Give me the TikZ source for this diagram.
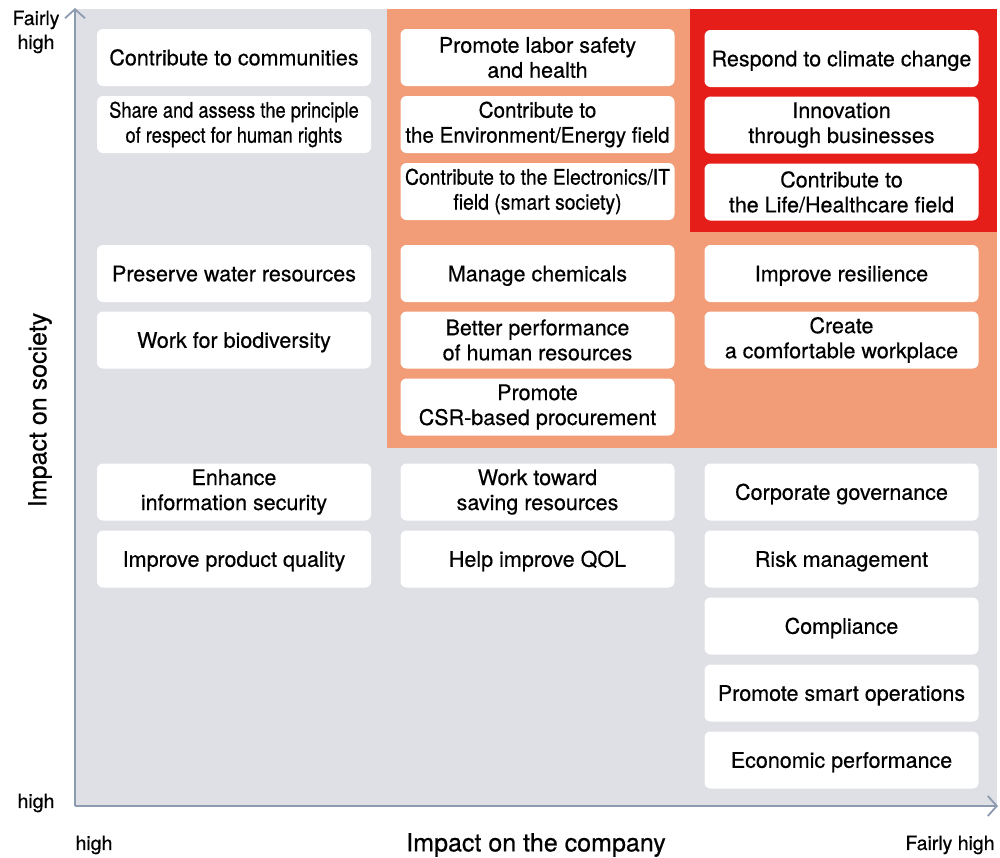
\documentclass[tikz,border=0pt]{standalone}
\usepackage{fontspec}
\setmainfont{TeX Gyre Heros}[FakeBold=0.5]
\usetikzlibrary{arrows.meta}
\definecolor{bggray}{HTML}{DFE0E5}
\definecolor{salmon}{HTML}{F29C78}
\definecolor{redzone}{HTML}{E61E19}
\definecolor{axiscol}{HTML}{8C9BB0}
\tikzset{
  item/.style={fill=white, rounded corners=6pt, minimum width=274pt, minimum height=57pt,
    inner sep=0pt, align=center, font=\fontsize{21.5}{25}\selectfont},
  one/.style={text height=15.5pt, text depth=0pt},
  axislabel/.style={font=\fontsize{19.5}{24}\selectfont, inner sep=0pt},
  axistitle/.style={font=\fontsize{25}{28}\selectfont, inner sep=0pt},
  axisline/.style={draw=axiscol, line width=2.2pt, -{Straight Barb[length=9pt,width=20pt,line width=1.8pt]}}
}
\newcommand{\cnda}[1]{\scalebox{0.85}[1]{#1}}
\newcommand{\cndb}[1]{\scalebox{0.9}[1]{#1}}
\newcommand{\cndc}[1]{\scalebox{0.96}[1]{#1}}
\begin{document}
\begin{tikzpicture}[x=1pt,y=-1pt]
\useasboundingbox (0,0) rectangle (1000,857);
% zones
\fill[bggray] (76,9) rectangle (997,806);
\fill[salmon] (387,9) rectangle (997,448);
\fill[redzone] (690,9) rectangle (997,232);
% axes
\coordinate (o) at (75,806);
\coordinate (ytop) at (75,8);
\coordinate (xend) at (998,806);
\draw[axisline] (o) -- (ytop);
\draw[axisline] (o) -- (xend);
% axis labels
\node[axislabel, align=center] (fh1) at (36,32) {Fairly\\high};
\node[axislabel] (h1) at (36,803) {high};
\node[axislabel] (h2) at (94,845) {high};
\node[axislabel] (fh2) at (950,845) {Fairly high};
\node[axistitle] (xt) at (536,845) {Impact on the company};
\node[axistitle, rotate=90] (yt) at (40,410) {Impact on society};
% column 1
\node[item, one] (a1) at (234,57.5) {Contribute to communities};
\node[item] (a2) at (234,124.5) {\cnda{Share and assess the principle}\\\cnda{of respect for human rights}};
\node[item, one] (a3) at (234,273.5) {Preserve water resources};
\node[item, one] (a4) at (234,340) {Work for biodiversity};
\node[item] (a5) at (234,492) {Enhance\\information security};
\node[item, one] (a6) at (234,559) {Improve product quality};
% column 2
\node[item] (b1) at (537.5,57.5) {Promote labor safety\\and health};
\node[item] (b2) at (537.5,124.5) {\cndc{Contribute to}\\\cndc{the Environment/Energy field}};
\node[item] (b3) at (537.5,191.5) {\cndb{Contribute to the Electronics/IT}\\\cndb{field (smart society)}};
\node[item, one] (b4) at (537.5,273.5) {Manage chemicals};
\node[item] (b5) at (537.5,340) {Better performance\\of human resources};
\node[item] (b6) at (537.5,407) {Promote\\CSR-based procurement};
\node[item] (b7) at (537.5,492) {Work toward\\saving resources};
\node[item, one] (b8) at (537.5,559) {Help improve QOL};
% column 3
\node[item, one] (c1) at (841.5,58.5) {Respond to climate change};
\node[item] (c2) at (841.5,125) {Innovation\\through businesses};
\node[item] (c3) at (841.5,192) {Contribute to\\the Life/Healthcare field};
\node[item, one] (c4) at (841.5,273.5) {Improve resilience};
\node[item] (c5) at (841.5,340) {Create\\a comfortable workplace};
\node[item, one] (c6) at (841.5,492) {Corporate governance};
\node[item, one] (c7) at (841.5,559) {Risk management};
\node[item, one] (c8) at (841.5,626) {Compliance};
\node[item, one] (c9) at (841.5,693) {Promote smart operations};
\node[item, one] (c10) at (841.5,760) {Economic performance};
\end{tikzpicture}
\end{document}
